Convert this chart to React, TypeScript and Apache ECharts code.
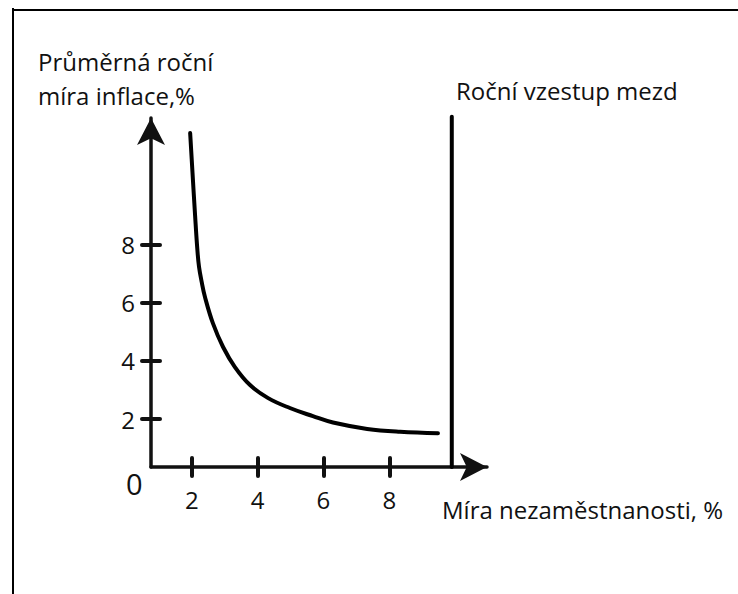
import React, { useEffect, useRef } from 'react';
import * as echarts from 'echarts';

// Phillips curve: unemployment (%) vs average annual inflation (%)
const unemployment = [1.95, 2.02, 2.1, 2.17, 2.22, 2.3, 2.4, 2.64, 2.95, 3.31, 3.77, 4.32, 4.98, 5.68, 6.29, 7.33, 8.33, 9.48];
const inflation = [11.84, 10.5, 9.0, 7.81, 7.23, 6.72, 6.2, 5.3, 4.48, 3.79, 3.17, 2.72, 2.38, 2.1, 1.88, 1.66, 1.56, 1.51];

// Vertical line: annual wage growth
const wageX = [9.9, 9.9];
const wageY = [0.35, 12.4];

const xTicks = [2, 4, 6, 8];
const yTicks = [2, 4, 6, 8];

const X_MIN = 0.76;
const X_MAX = 10.97;
const Y_MIN = 0.35;
const Y_MAX = 12.36;

const yName = 'Průměrná roční\nmíra inflace,%';
const xName = 'Míra nezaměstnanosti, %';
const wageName = 'Roční vzestup mezd';
const originLabel = '0';

const FONT = '"Open Sans", "Noto Sans", sans-serif';
const INK = '#111';

export default function App() {
  const ref = useRef<HTMLDivElement>(null);
  useEffect(() => {
    if (!ref.current) return;
    const chart = echarts.init(ref.current, null, { renderer: 'svg' });
    const curve = unemployment.map((x, i) => [x, inflation[i]]);
    const wage = wageX.map((x, i) => [x, wageY[i]]);
    const baseX = {
      type: 'value',
      min: X_MIN,
      max: X_MAX,
      position: 'bottom',
      splitLine: { show: false },
    };
    const baseY = {
      type: 'value',
      min: Y_MIN,
      max: Y_MAX,
      position: 'left',
      splitLine: { show: false },
    };
    const tickStyle = { color: INK, width: 4, cap: 'round' };
    chart.setOption({
      animation: false,
      backgroundColor: '#fff',
      grid: { left: 151, right: 251, top: 118, bottom: 127, containLabel: false, outerBoundsMode: 'none' },
      xAxis: [
        {
          ...baseX,
          axisLine: {
            show: true,
            onZero: false,
            symbol: ['none', 'arrow'],
            symbolSize: [21, 27],
            lineStyle: { color: INK, width: 3.5 },
          },
          axisTick: { show: true, inside: false, length: 9, customValues: xTicks, lineStyle: tickStyle },
          axisLabel: { show: true, customValues: xTicks, margin: 20, color: INK, fontSize: 24, fontFamily: FONT },
        },
        {
          ...baseX,
          axisLine: { show: false, onZero: false },
          axisTick: { show: true, inside: true, length: 9, customValues: xTicks, lineStyle: tickStyle },
          axisLabel: { show: false },
        },
      ],
      yAxis: [
        {
          ...baseY,
          axisLine: {
            show: true,
            onZero: false,
            symbol: ['none', 'arrow'],
            symbolSize: [21, 27],
            lineStyle: { color: INK, width: 3.5 },
          },
          axisTick: { show: true, inside: false, length: 9, customValues: yTicks, lineStyle: tickStyle },
          axisLabel: { show: true, customValues: yTicks, margin: 16, color: INK, fontSize: 24, fontFamily: FONT },
        },
        {
          ...baseY,
          axisLine: { show: false, onZero: false },
          axisTick: { show: true, inside: true, length: 9, customValues: yTicks, lineStyle: tickStyle },
          axisLabel: { show: false },
        },
      ],
      series: [
        {
          type: 'line',
          name: 'Phillipsova křivka',
          data: curve,
          smooth: 0.4,
          showSymbol: false,
          symbol: 'none',
          lineStyle: { color: '#000', width: 4, cap: 'round', join: 'round' },
          clip: false,
        },
        {
          type: 'line',
          name: wageName,
          data: wage,
          showSymbol: false,
          symbol: 'none',
          lineStyle: { color: '#000', width: 4, cap: 'round' },
          clip: false,
        },
      ],
      graphic: [
        { type: 'line', shape: { x1: 13, y1: 8, x2: 13, y2: 594 }, style: { stroke: '#000', lineWidth: 2 } },
        { type: 'line', shape: { x1: 12, y1: 10, x2: 738, y2: 10 }, style: { stroke: '#000', lineWidth: 2 } },
        {
          type: 'text',
          left: 38,
          top: 44,
          style: { text: yName, fill: INK, font: `24px ${FONT}`, lineHeight: 34 },
        },
        {
          type: 'text',
          left: 456,
          top: 78,
          style: { text: wageName, fill: INK, font: `24px ${FONT}` },
        },
        {
          type: 'text',
          left: 442,
          top: 497,
          style: { text: xName, fill: INK, font: `24px ${FONT}` },
        },
        {
          type: 'text',
          left: 126,
          top: 469,
          style: { text: originLabel, fill: INK, font: `29px ${FONT}` },
        },
      ],
    });
    return () => chart.dispose();
  }, []);
  return <div ref={ref} style={{ position: 'absolute', left: 0, top: 0, width: 738, height: 594 }} />;
}
